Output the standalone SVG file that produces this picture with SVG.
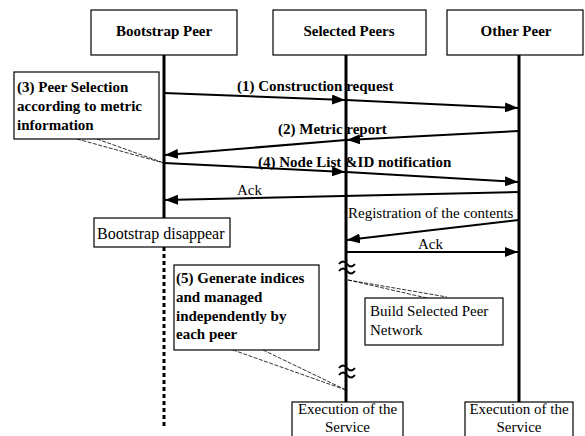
<svg xmlns="http://www.w3.org/2000/svg" width="585" height="436" viewBox="0 0 585 436" font-family="'Liberation Serif', 'DejaVu Serif', 'Times New Roman', serif" font-size="15">
<style>
.box{fill:#fff;stroke:#000;stroke-width:1.2}
.life{stroke:#000;stroke-width:3;fill:none}
.msg{stroke:#000;stroke-width:2;fill:none;marker-end:url(#ah)}
.ptr{stroke:#000;stroke-width:0.8;fill:none;stroke-dasharray:4,1.5}
.brk{stroke:#000;stroke-width:2;fill:none}
text{font-family:'Liberation Serif','DejaVu Serif',serif;font-size:15px;fill:#000}
.b{font-weight:bold}
.c{text-anchor:middle}
</style>
<defs>
<marker id="ah" markerUnits="userSpaceOnUse" markerWidth="14" markerHeight="10" refX="13" refY="5" orient="auto">
<path d="M0,0 L13,5 L0,10 Z" fill="#000"/>
</marker>
</defs>
<rect width="585" height="436" fill="#fff"/>
<g id="lifelines">
<line class="life" x1="164" y1="55" x2="164" y2="218"/>
<line class="life" x1="164" y1="247" x2="164" y2="428" stroke-dasharray="4,3"/>
<line class="life" x1="346" y1="55" x2="346" y2="402"/>
<line class="life" x1="519" y1="55" x2="519" y2="402"/>
</g>
<g id="bootstrap-peer"><rect class="box" x="91" y="10" width="146" height="45"/><text class="b c" x="164" y="36">Bootstrap Peer</text></g>
<g id="selected-peers"><rect class="box" x="273" y="10" width="153" height="45"/><text class="b c" x="349" y="36">Selected Peers</text></g>
<g id="other-peer"><rect class="box" x="447" y="10" width="136" height="45"/><text class="b c" x="516" y="36">Other Peer</text></g>
<g id="connectors">
<line class="msg" x1="164" y1="93" x2="345" y2="100"/>
<line class="msg" x1="346" y1="100" x2="518" y2="108"/>
<line class="msg" x1="519" y1="131" x2="347" y2="140" stroke-width="3"/>
<line class="msg" x1="346" y1="140" x2="165" y2="155"/>
<line class="msg" x1="164" y1="163" x2="345" y2="172"/>
<line class="msg" x1="346" y1="172" x2="518" y2="182"/>
<line class="msg" x1="519" y1="192" x2="165" y2="200"/>
<line class="msg" x1="519" y1="220" x2="347" y2="240"/>
<line class="msg" x1="346" y1="252" x2="518" y2="252"/>
<path class="ptr" d="M77,139 L164,163 M97,139 L164,163"/>
<path class="ptr" d="M348,280 L427,298 M348,280 L447,297"/>
<path class="ptr" d="M233,350 L346,390 M263,350 L346,390"/>
<path class="brk" d="M339,264 q4,-5 8,0 t8,0 M339,271 q4,-5 8,0 t8,0"/>
<path class="brk" d="M339,368 q4,-5 8,0 t8,0 M339,375 q4,-5 8,0 t8,0"/>
</g>
<g id="labels">
<text class="b" x="237" y="91">(1) Construction request</text>
<text class="b" x="278" y="134">(2) Metric report</text>
<text class="b" x="258" y="167">(4) Node List &amp;ID notification</text>
<text x="237" y="195">Ack</text>
<text x="348" y="218">Registration of the contents</text>
<text x="418" y="249">Ack</text>
</g>
<g id="note-peer-selection"><rect class="box" x="14" y="72" width="145" height="67"/>
<text class="b" x="17" y="92">(3) Peer Selection</text>
<text class="b" x="17" y="111">according to metric</text>
<text class="b" x="17" y="130">information</text></g>
<g id="bootstrap-disappear"><rect class="box" x="94" y="218" width="136" height="29"/><text x="97" y="239" style="font-size:16px">Bootstrap disappear</text></g>
<g id="note-generate"><rect class="box" x="174" y="265" width="145" height="85"/>
<text class="b" x="176" y="283">(5) Generate indices</text>
<text class="b" x="176" y="302">and managed</text>
<text class="b" x="176" y="321">independently by</text>
<text class="b" x="176" y="339">each peer</text></g>
<g id="note-build"><rect class="box" x="365" y="298" width="138" height="47"/>
<text x="370" y="316">Build Selected Peer</text>
<text x="370" y="335">Network</text></g>
<g id="exec-selected"><rect class="box" x="292" y="402" width="111" height="40"/>
<text class="c" x="347.5" y="414">Execution of the</text><text class="c" x="347.5" y="432">Service</text></g>
<g id="exec-other"><rect class="box" x="465" y="402" width="108" height="40"/>
<text class="c" x="519" y="414">Execution of the</text><text class="c" x="519" y="432">Service</text></g>
</svg>
